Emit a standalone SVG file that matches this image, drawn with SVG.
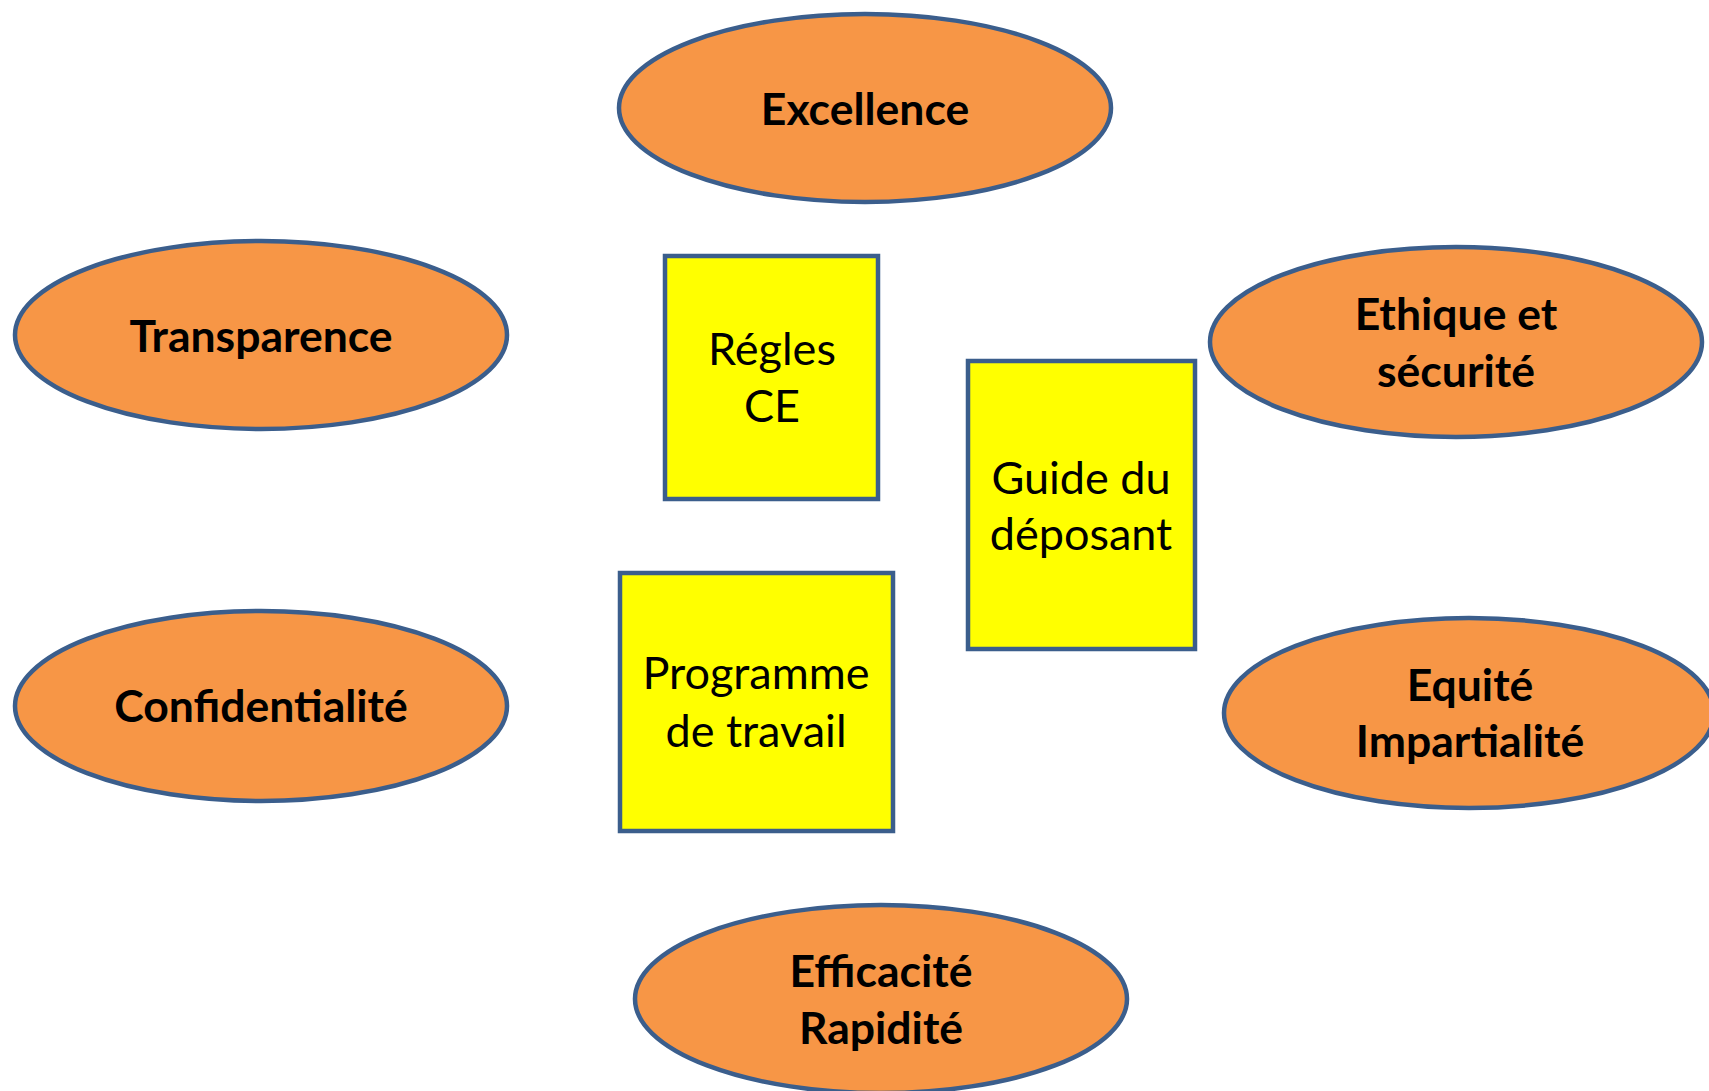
<svg xmlns="http://www.w3.org/2000/svg" width="1709" height="1091" viewBox="0 0 1709 1091">
<style>
.ell{fill:#F79646;stroke:#3B5E8C;stroke-width:4.5}
.box{fill:#FFFF00;stroke:#3B5E8C;stroke-width:4.5}
.b{font-family:Lato,"Liberation Sans",sans-serif;font-weight:bold;font-size:44.5px;fill:#000;text-anchor:middle}
.r{font-family:Lato,"Liberation Sans",sans-serif;font-size:45px;fill:#000;text-anchor:middle}
</style>
<rect width="1709" height="1091" fill="#fff"/>
<g id="connectors"></g>
<g id="excellence"><ellipse class="ell" cx="865" cy="108" rx="246" ry="94"/><text class="b" x="865" y="125">Excellence</text></g>
<g id="transparence"><ellipse class="ell" cx="261" cy="335" rx="246" ry="94"/><text class="b" x="261" y="352">Transparence</text></g>
<g id="ethique"><ellipse class="ell" cx="1456" cy="342" rx="246" ry="95"/><text class="b" x="1456" y="330">Ethique et</text><text class="b" x="1456" y="387">sécurité</text></g>
<g id="confidentialite"><ellipse class="ell" cx="261" cy="706" rx="246" ry="95"/><text class="b" x="261" y="722">Confidentialité</text></g>
<g id="equite"><ellipse class="ell" cx="1469" cy="713" rx="245" ry="95"/><text class="b" x="1470" y="701">Equité</text><text class="b" x="1470" y="757">Impartialité</text></g>
<g id="efficacite"><ellipse class="ell" cx="881" cy="999" rx="246" ry="94"/><text class="b" x="881" y="987">Efficacité</text><text class="b" x="881" y="1044">Rapidité</text></g>
<g id="regles"><rect class="box" x="665" y="256" width="213" height="243"/><text class="r" x="772" y="365">Régles</text><text class="r" x="772" y="422">CE</text></g>
<g id="guide"><rect class="box" x="968" y="361" width="227" height="288"/><text class="r" x="1081" y="494">Guide du</text><text class="r" x="1081" y="550">déposant</text></g>
<g id="programme"><rect class="box" x="620" y="573" width="273" height="258"/><text class="r" x="756" y="689">Programme</text><text class="r" x="756" y="747">de travail</text></g>
</svg>
